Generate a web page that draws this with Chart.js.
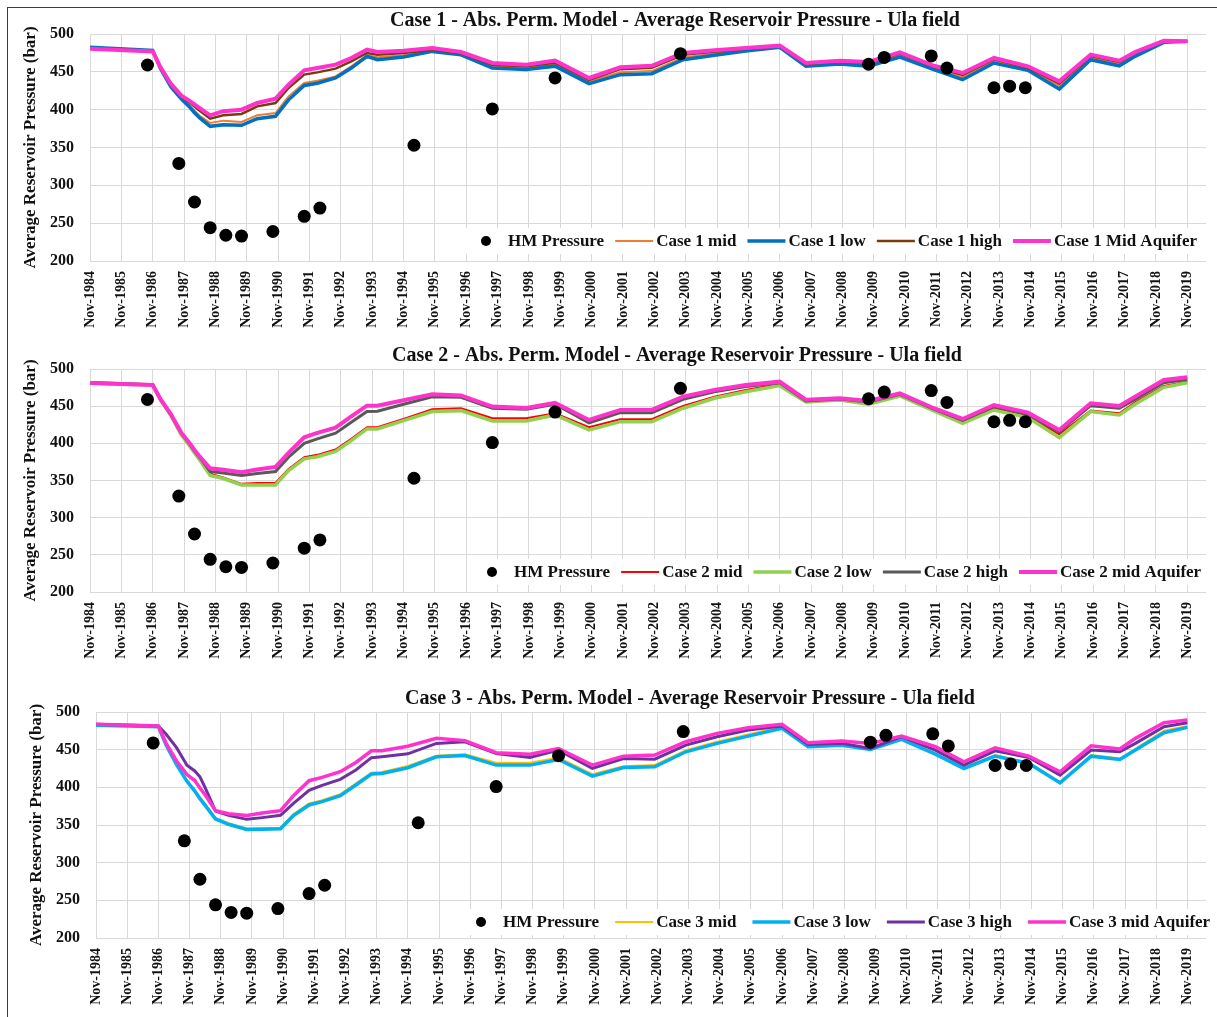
<!DOCTYPE html>
<html>
<head>
<meta charset="utf-8">
<title>Ula field - Average Reservoir Pressure</title>
<script src="https://cdn.jsdelivr.net/npm/chart.js@4.4.0/dist/chart.umd.min.js"></script>
<style>
  html, body { margin: 0; padding: 0; background: #fff; }
  body { position: relative; width: 1217px; height: 1017px; overflow: hidden; }
  #frame { position: absolute; left: 7px; top: 7px; width: 1220px; height: 1020px;
           border-left: 1px solid #3c3c3c; border-top: 1px solid #3c3c3c; }
  canvas { position: absolute; left: 0; }
</style>
</head>
<body>
<div id="frame"></div>
<canvas id="case1" width="1217" height="338" style="top:0px"></canvas>
<canvas id="case2" width="1217" height="334" style="top:338px"></canvas>
<canvas id="case3" width="1217" height="345" style="top:672px"></canvas>
<script>
// Simulation report dates shared by all model runs (YYYY-MM)
const simDates = ['1984-11','1986-11','1987-02','1987-06','1987-10','1988-01','1988-03','1988-05','1988-09','1989-02',
  '1989-09','1990-03','1990-10','1991-03','1991-09','1992-02','1992-09','1993-03','1993-09','1994-01',
  '1994-11','1995-10','1996-09','1997-09','1998-10','1999-09','2000-10','2001-10','2002-10','2003-10',
  '2004-10','2005-10','2006-11','2007-09','2008-10','2009-09','2010-09','2011-10','2012-09','2013-09',
  '2014-10','2015-10','2016-10','2017-09','2018-03','2019-02','2019-11'];

// History-matched pressure measurements
const hmDates = ['1986-09','1987-09','1988-03','1988-09','1989-03','1989-09','1990-09','1991-09','1992-03','1995-03',
  '1997-09','1999-09','2003-09','2009-09','2010-03','2011-09','2012-03','2013-09','2014-03','2014-09'];
const hmPressure = [459, 329, 278, 244, 234, 233, 239, 259, 270, 353, 401, 442, 474, 460, 469, 471, 455, 429, 431, 429];

// Case 1 runs (bar)
const case1Mid = [481.5, 478, 455, 431, 415.5, 406, 398.5, 392, 382.4, 385.5,
  383.7, 392.5, 395.6, 417.6, 435.2, 438.3, 444, 457.3, 471.8, 469.2,
  471.8, 478, 473.5, 457.3, 455, 459.5, 437.5, 449.5, 451, 469,
  474, 479, 483.5, 459.5, 462.5, 460, 472, 455.5, 443, 464.5,
  454.5, 431.5, 469, 461, 473, 490, 490.4];
const case1Low = [482.4, 478.4, 454, 430, 414, 404, 396, 389, 378, 380,
  379.3, 388, 391.2, 413, 432, 435, 442, 455, 470.5, 466,
  469.5, 477, 472.5, 455, 453, 457.5, 434.5, 446.3, 447.6, 466,
  472, 477.5, 482.4, 457.5, 460.4, 457.3, 469.6, 452.9, 439.6, 461.7,
  452, 427.3, 466, 458, 470.5, 489, 490.3];
const case1High = [481, 477.5, 455.5, 433, 417, 410, 404, 398.5, 388.1, 392.5,
  394.3, 404.4, 408.8, 428.6, 446.3, 449.3, 454.2, 463.9, 474.9, 472.7,
  474.9, 479.3, 474.5, 459.5, 457.3, 462, 439.5, 453.5, 455.5, 472.5,
  476.5, 480.5, 484, 460.5, 463.5, 461.5, 474, 456.5, 446, 466.5,
  455.5, 434.5, 471, 463, 475, 490.5, 490.4];
const case1MidAquifer = [480.5, 477, 456, 434, 418.5, 412, 407, 402, 392.5, 398,
  400, 408.8, 414.5, 433, 452, 455, 459.5, 468.3, 479.3, 476.2,
  478, 481.5, 476.2, 461.7, 459.5, 464.8, 441.9, 456, 458, 475,
  478.5, 481.5, 484.6, 461.7, 464.8, 463, 475.8, 458, 448.5, 468.3,
  457.3, 437.4, 472.7, 464.8, 476, 491, 490.5];

// Case 2 runs (bar)
const case2Mid = [481.5, 479, 459, 438, 412.5, 398.5, 388.5, 379, 359, 354,
  345.5, 346.5, 346.8, 365.6, 381.3, 384.5, 391.6, 406, 421.6, 421.6,
  432.8, 445.8, 447.2, 433.7, 433.7, 440.4, 421.6, 432.4, 432.4, 450.3,
  462.8, 471.8, 479.8, 456.5, 459.2, 453.9, 465, 444.9, 429.2, 447.2,
  436.9, 412.2, 444, 440.4, 455, 477.2, 483];
const case2Low = [481, 478.5, 458.5, 437, 411, 397, 387, 377.5, 356.7, 352.7,
  344, 344, 344, 363.4, 379.1, 382, 389, 403.7, 419.4, 419.4,
  430.6, 442.7, 444, 430.1, 430.1, 438.2, 418, 429.2, 429.2, 447.2,
  460.6, 469.5, 477.6, 455.5, 458.4, 452.5, 463.7, 443.6, 427, 444.9,
  434.6, 407.7, 442.7, 438.2, 452.5, 475.4, 481.6];
const case2High = [481.8, 479, 459, 438.5, 413.5, 400, 390, 381, 362, 360,
  356.7, 359.5, 362, 381.3, 400.1, 406, 413.6, 428.3, 442.7, 443.1,
  452.5, 462.5, 461.9, 447.2, 445.8, 452.5, 427.5, 441.3, 441.3, 459.2,
  469.5, 476.3, 481.6, 457, 459.5, 455.5, 466, 446, 431, 449.4,
  439, 415.8, 450.7, 447.2, 459, 481.6, 486];
const case2MidAquifer = [481.2, 478.5, 459.5, 439, 414, 401, 391, 382, 366.5, 364.5,
  361.2, 364.8, 368.3, 387.2, 408.2, 414, 421.2, 436.4, 450.7, 450.7,
  458, 466, 464.5, 449.5, 447.6, 454.5, 431.5, 445, 445, 462.8,
  471.8, 478.5, 483, 458.8, 460.6, 457, 467.3, 447.2, 432.8, 451.6,
  441.3, 418, 453.9, 450.3, 462.8, 485.2, 488.8];

// Case 3 runs (bar)
const case3Mid = [482.8, 480.8, 456.5, 431, 409, 396.5, 387, 378, 359.5, 352.5,
  345.5, 346, 346.5, 364.5, 378.5, 383, 391, 405, 419.5, 420.5,
  428.5, 441.8, 444, 432.6, 432.6, 439.7, 417.5, 428.1, 429.5, 449.4,
  460.5, 470.3, 480.5, 455, 457, 451.6, 465, 445, 426.4, 442.8,
  432.6, 407.3, 442.8, 438.3, 451, 475.2, 481.4];
const case3Low = [482.5, 480.5, 456, 430, 408, 395, 385, 376, 358, 351,
  344, 344.5, 345, 362.6, 376.6, 381, 389, 403, 417.6, 418.5,
  426, 440.6, 442.3, 429.5, 429.5, 437, 414.8, 426.4, 427.2, 447.2,
  458.3, 468, 478.3, 454, 456, 450.3, 463.7, 444, 425, 441.4,
  431.7, 405.9, 441.4, 437, 449.4, 472.5, 479.6];
const case3High = [483.7, 481.5, 470.5, 452.7, 429.2, 421.7, 414, 399.6, 368.6, 362.8,
  357.5, 359.8, 362.8, 378.7, 396, 402.7, 410.6, 423, 439.4, 440.7,
  444.5, 458.3, 460.5, 445, 439.7, 449.4, 425, 438.3, 437.4, 456,
  467.2, 476, 481.4, 457, 458.5, 451.6, 467.2, 449.4, 429.5, 448.5,
  439.7, 416.2, 449.4, 447.2, 458.3, 480.5, 485.8];
const case3MidAquifer = [483.7, 481.5, 458.4, 435, 417, 409, 399, 390, 369, 365,
  362.6, 366, 369, 389, 408.8, 413.2, 420.7, 433, 448.5, 448.5,
  454.5, 465, 462, 446, 444, 451.6, 429.5, 441.4, 442.8, 460.5,
  471.6, 479.1, 483.6, 459.2, 461.4, 458.3, 468, 453.9, 433.9, 452.5,
  441.4, 420.6, 455.2, 450.8, 465, 485.8, 489.4];

// Yearly x-axis labels
const tickLabels = ['Nov-1984','Nov-1985','Nov-1986','Nov-1987','Nov-1988','Nov-1989','Nov-1990','Nov-1991','Nov-1992',
  'Nov-1993','Nov-1994','Nov-1995','Nov-1996','Nov-1997','Nov-1998','Nov-1999','Nov-2000','Nov-2001','Nov-2002',
  'Nov-2003','Nov-2004','Nov-2005','Nov-2006','Nov-2007','Nov-2008','Nov-2009','Nov-2010','Nov-2011','Nov-2012',
  'Nov-2013','Nov-2014','Nov-2015','Nov-2016','Nov-2017','Nov-2018','Nov-2019'];

const FONT = '"Liberation Serif", "Times New Roman", serif';
const GRID = '#d9d9d9';
const TEXT = '#111';

// "YYYY-MM" -> decimal year
const toYear = s => { const [y, m] = s.split('-').map(Number); return y + (m - 1) / 12; };
const monthNum = { Nov: '11' };
const tickValues = tickLabels.map(l => { const [mon, yr] = l.split('-'); return toYear(yr + '-' + monthNum[mon]); });
const xMin = tickValues[0];
const xMax = 2020.43;

// Chart title drawn above the plot area
const panelTitle = {
  id: 'panelTitle',
  afterDraw(chart, args, o) {
    const c = chart.ctx;
    c.save();
    c.font = `bold 20px ${FONT}`;
    c.fillStyle = TEXT;
    c.textAlign = 'center';
    c.textBaseline = 'middle';
    c.fillText(o.text, o.x, chart.chartArea.top - 13);
    c.restore();
  }
};

// Single-row legend placed inside the plot, near its bottom edge
const panelLegend = {
  id: 'panelLegend',
  afterDraw(chart, args, o) {
    const c = chart.ctx, a = chart.chartArea;
    const cy = a.bottom - o.dy;
    const mark = 38, inner = 3;
    const ds = chart.data.datasets;
    c.save();
    c.font = `bold 17px ${FONT}`;
    const widths = ds.map(d => c.measureText(d.label).width);
    const total = widths.reduce((s, v) => s + v, 0) + ds.length * (mark + inner) + (ds.length - 1) * o.gap;
    c.fillStyle = '#fff';
    c.fillRect(o.x - 5, cy - 13, total + 10, 26);
    let x = o.x;
    ds.forEach((d, i) => {
      if (d.type === 'scatter') {
        c.fillStyle = '#000';
        c.beginPath();
        c.arc(x + mark / 2, cy, 5, 0, Math.PI * 2);
        c.fill();
      } else {
        c.strokeStyle = d.borderColor;
        c.lineWidth = d.borderWidth;
        c.beginPath();
        c.moveTo(x, cy);
        c.lineTo(x + mark, cy);
        c.stroke();
      }
      x += mark + inner;
      c.fillStyle = TEXT;
      c.textAlign = 'left';
      c.textBaseline = 'middle';
      c.fillText(d.label, x, cy + 1);
      x += widths[i] + o.gap;
    });
    c.restore();
  }
};

function buildPanel(canvasId, cfg) {
  const toPoints = arr => simDates.map((d, i) => ({ x: toYear(d), y: arr[i] }));
  const datasets = [{
    type: 'scatter',
    label: 'HM Pressure',
    data: hmDates.map((d, i) => ({ x: toYear(d), y: hmPressure[i] })),
    pointRadius: 6.5,
    pointBackgroundColor: '#000',
    pointBorderWidth: 0,
    showLine: false,
    order: 0
  }].concat(cfg.series.map((s, k) => ({
    type: 'line',
    label: s.label,
    data: toPoints(s.values),
    borderColor: s.color,
    backgroundColor: s.color,
    borderWidth: s.width,
    pointRadius: 0,
    tension: 0,
    fill: false,
    order: 10 - k
  })));

  const tickFont = { family: FONT, weight: 'bold', size: 14 };
  return new Chart(document.getElementById(canvasId), {
    type: 'line',
    data: { datasets },
    options: {
      responsive: false,
      animation: false,
      devicePixelRatio: 1,
      layout: { padding: { top: cfg.padTop, left: cfg.padLeft, right: 11, bottom: 0 } },
      plugins: {
        legend: { display: false },
        tooltip: { enabled: false },
        panelTitle: { text: cfg.title, x: cfg.titleX },
        panelLegend: { x: cfg.legendX, gap: cfg.legendGap, dy: cfg.legendDy }
      },
      scales: {
        x: {
          type: 'linear',
          min: xMin,
          max: xMax,
          afterBuildTicks: s => { s.ticks = tickValues.map(v => ({ value: v })); },
          afterFit: s => { s.height = cfg.xHeight; },
          ticks: {
            autoSkip: false, maxRotation: 90, minRotation: 90, padding: 10,
            color: TEXT, font: tickFont,
            callback: (v, i) => tickLabels[i]
          },
          grid: { color: GRID, lineWidth: 1, drawTicks: false },
          border: { display: false }
        },
        y: {
          min: 200,
          max: 500,
          afterFit: s => { s.width = 82; },
          ticks: { stepSize: 50, padding: 16, color: TEXT, font: { family: FONT, weight: 'bold', size: 16 } },
          title: {
            display: true,
            text: 'Average Reservoir Pressure (bar)',
            color: TEXT,
            font: { family: FONT, weight: 'bold', size: 17 },
            padding: { top: 12, bottom: 0 }
          },
          grid: { color: GRID, lineWidth: 1, drawTicks: false },
          border: { color: GRID }
        }
      }
    },
    plugins: [panelTitle, panelLegend]
  });
}

buildPanel('case1', {
  title: 'Case 1 - Abs. Perm. Model - Average Reservoir Pressure - Ula field',
  titleX: 675, padTop: 34, padLeft: 8, xHeight: 77,
  legendX: 467, legendGap: 11, legendDy: 20,
  series: [
    { label: 'Case 1 mid', values: case1Mid, color: '#ED7D31', width: 2 },
    { label: 'Case 1 low', values: case1Low, color: '#0070C0', width: 3.5 },
    { label: 'Case 1 high', values: case1High, color: '#7B3A0C', width: 2.5 },
    { label: 'Case 1 Mid Aquifer', values: case1MidAquifer, color: '#FF33CC', width: 4 }
  ]
});

buildPanel('case2', {
  title: 'Case 2 - Abs. Perm. Model - Average Reservoir Pressure - Ula field',
  titleX: 677, padTop: 31, padLeft: 8, xHeight: 80,
  legendX: 473, legendGap: 11, legendDy: 20,
  series: [
    { label: 'Case 2 mid', values: case2Mid, color: '#FF0000', width: 2 },
    { label: 'Case 2 low', values: case2Low, color: '#92D050', width: 3.5 },
    { label: 'Case 2 high', values: case2High, color: '#595959', width: 3 },
    { label: 'Case 2 mid Aquifer', values: case2MidAquifer, color: '#FF33CC', width: 4 }
  ]
});

buildPanel('case3', {
  title: 'Case 3 - Abs. Perm. Model - Average Reservoir Pressure - Ula field',
  titleX: 690, padTop: 40, padLeft: 14, xHeight: 79,
  legendX: 462, legendGap: 16, legendDy: 16,
  series: [
    { label: 'Case 3 mid', values: case3Mid, color: '#FFC000', width: 2 },
    { label: 'Case 3 low', values: case3Low, color: '#00B0F0', width: 3.5 },
    { label: 'Case 3 high', values: case3High, color: '#7030A0', width: 3 },
    { label: 'Case 3 mid Aquifer', values: case3MidAquifer, color: '#FF33CC', width: 3.5 }
  ]
});
</script>
</body>
</html>
